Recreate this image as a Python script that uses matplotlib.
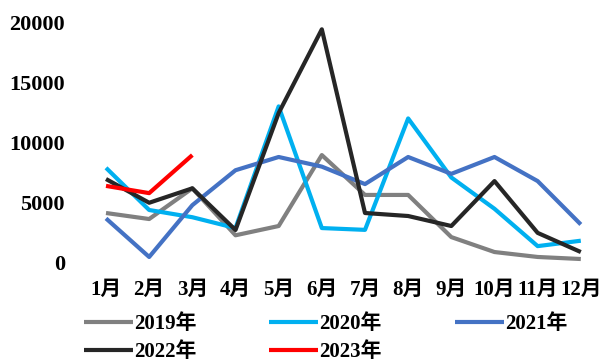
import matplotlib
matplotlib.use("Agg")
import matplotlib.pyplot as plt

months = ["1月", "2月", "3月", "4月", "5月", "6月", "7月", "8月", "9月", "10月", "11月", "12月"]
s2019 = [4150, 3650, 6200, 2300, 3070, 8960, 5650, 5650, 2150, 910, 500, 330]
s2020 = [7900, 4400, 3800, 2900, 13000, 2900, 2750, 12000, 7100, 4500, 1400, 1850]
s2021 = [3700, 500, 4800, 7700, 8800, 8000, 6550, 8800, 7400, 8800, 6800, 3200]
s2022 = [6970, 5000, 6200, 2740, 12450, 19400, 4150, 3900, 3070, 6800, 2500, 910]
s2023 = [6400, 5800, 8960]
labels = ["2019年", "2020年", "2021年", "2022年", "2023年"]
yticks = [0, 5000, 10000, 15000, 20000]

colors = ["#808080", "#00B0F0", "#4472C4", "#262626", "#FF0000"]
fam = ["Liberation Serif", "Noto Sans CJK SC"]
plt.rcParams["font.family"] = fam
plt.rcParams["font.weight"] = "bold"

fig = plt.figure(figsize=(6.03, 3.62), dpi=100)
ax = fig.add_axes([0.140, 0.2735, 0.859, 0.6655])
x = list(range(len(months)))
handles = []
for data, c, lab in zip([s2019, s2020, s2021, s2022, s2023], colors, labels):
    h, = ax.plot(x[:len(data)], data, color=c, lw=3, label=lab, solid_capstyle="butt")
    handles.append(h)

ax.set_xlim(-0.5, len(months) - 0.5)
ax.set_ylim(0, 20000)
ax.set_yticks(yticks)
ax.set_yticklabels([str(v) for v in yticks], fontsize=16, fontweight="bold")
ax.set_xticks(x)
ax.set_xticklabels(months, fontsize=15, fontweight="bold")
ax.tick_params(axis="both", length=0)
ax.tick_params(axis="y", pad=14)
ax.tick_params(axis="x", pad=12)
for s in ax.spines.values():
    s.set_visible(False)

order = [0, 3, 1, 4, 2]
fig.legend([handles[i] for i in order], [labels[i] for i in order], ncol=3,
           loc="upper left", bbox_to_anchor=(0.139, 0.133), frameon=False,
           prop={"size": 15, "weight": "bold"}, handlelength=2.35, handletextpad=0.05,
           columnspacing=3.5, labelspacing=0.41, borderpad=0, borderaxespad=0)

fig.savefig("out.png", dpi=100)
